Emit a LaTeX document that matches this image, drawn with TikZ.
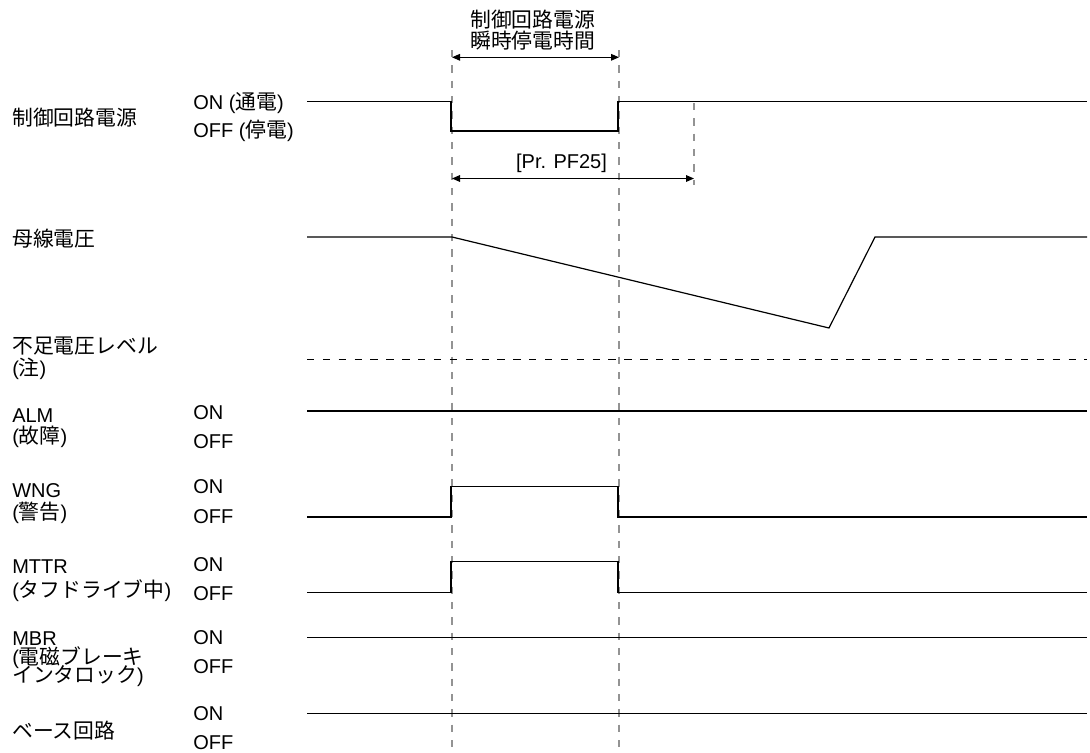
\documentclass[tikz,border=0pt]{standalone}
\usepackage{fontspec}
\setmainfont{Liberation Sans}
\newfontfamily\jpfont{Noto Sans CJK JP}[Scale=1.04]
\newcommand\jpt[1]{{\jpfont #1}}
\usetikzlibrary{arrows.meta}
\begin{document}
\begin{tikzpicture}[x=0.75pt,y=-0.75pt,
  lbl/.style={anchor=base west,inner sep=0pt,font=\fontsize{15pt}{17pt}\selectfont},
  ctext/.style={anchor=base,inner sep=0pt,font=\fontsize{15pt}{17pt}\selectfont},
  sig/.style={line width=0.9pt,black,line join=miter},
  vdash/.style={line width=0.8pt,gray!85,dash pattern=on 5.5pt off 6pt},
  lvl/.style={line width=0.8pt,black,dash pattern=on 5.5pt off 6.4pt},
  dim/.style={line width=0.8pt,black,{Triangle[length=6pt,width=5pt]}-{Triangle[length=6pt,width=5pt]}}]
\useasboundingbox (0,0) rectangle (1090,753);

% vertical dashed time markers
\coordinate (t0top) at (452,50);
\coordinate (t0bot) at (452,753);
\coordinate (t1top) at (619,50);
\coordinate (t1bot) at (619,753);
\coordinate (t2top) at (694,103);
\coordinate (t2bot) at (694,185);
\draw[vdash] (t0top) -- (t0bot);
\draw[vdash] (t1top) -- (t1bot);
\draw[vdash] (t2top) -- (t2bot);

% top annotation
\node[ctext] (title1) at (532.7,27) {\jpt{制御回路電源}};
\node[ctext] (title2) at (532.7,48) {\jpt{瞬時停電時間}};
\coordinate (a1s) at (452,57.3);
\coordinate (a1e) at (619,57.3);
\draw[dim] (a1s) -- (a1e);

\node[ctext] (pf25) at (561.5,168) {[Pr. PF25]};
\coordinate (a2s) at (452,178.5);
\coordinate (a2e) at (694,178.5);
\draw[dim] (a2s) -- (a2e);

% left labels
\node[lbl] (ctrl) at (12,125) {\jpt{制御回路電源}};
\node[lbl] (ctrlon) at (193,109) {ON (\jpt{通電})};
\node[lbl] (ctrloff) at (193,137) {OFF (\jpt{停電})};

\node[lbl] (bus) at (12,246) {\jpt{母線電圧}};

\node[lbl] (uv1) at (12,353) {\jpt{不足電圧レベル}};
\node[lbl] (uv2) at (12,375) {(\jpt{注})};

\node[lbl] (alm1) at (12,422) {ALM};
\node[lbl] (alm2) at (12,443) {(\jpt{故障})};
\node[lbl] (almon) at (193,419.3) {ON};
\node[lbl] (almoff) at (193,448.7) {OFF};

\node[lbl] (wng1) at (12,497) {WNG};
\node[lbl] (wng2) at (12,519.5) {(\jpt{警告})};
\node[lbl] (wngon) at (193,493.7) {ON};
\node[lbl] (wngoff) at (193,523) {OFF};

\node[lbl] (mttr1) at (12,573.7) {MTTR};
\node[lbl] (mttr2) at (12,597) {(\jpt{タフドライブ中})};
\node[lbl] (mttron) at (193,571) {ON};
\node[lbl] (mttroff) at (193,600) {OFF};

\node[lbl] (mbr1) at (12,645) {MBR};
\node[lbl] (mbr2) at (12,664) {(\jpt{電磁ブレーキ}};
\node[lbl] (mbr3) at (12,682.5) {\jpt{インタロック})};
\node[lbl] (mbron) at (193,644) {ON};
\node[lbl] (mbroff) at (193,673.7) {OFF};

\node[lbl] (base) at (12,738) {\jpt{ベース回路}};
\node[lbl] (baseon) at (193,720) {ON};
\node[lbl] (baseoff) at (193,749.7) {OFF};

% signals
\draw[sig] (307,101.7) -- (451,101.7) -- (451,131) -- (618,131) -- (618,101.7) -- (1087,101.7);
\draw[sig] (307,237) -- (452,237) -- (829,328) -- (875,237) -- (1087,237);
\draw[lvl] (307,359.3) -- (1087,359.3);
\draw[sig] (307,411) -- (1087,411);
\draw[sig] (307,517) -- (451,517) -- (451,486.5) -- (618,486.5) -- (618,517) -- (1087,517);
\draw[sig] (307,592.7) -- (451,592.7) -- (451,561.5) -- (618,561.5) -- (618,592.7) -- (1087,592.7);
\draw[sig] (307,637.7) -- (1087,637.7);
\draw[sig] (307,713.3) -- (1087,713.3);
\end{tikzpicture}
\end{document}
